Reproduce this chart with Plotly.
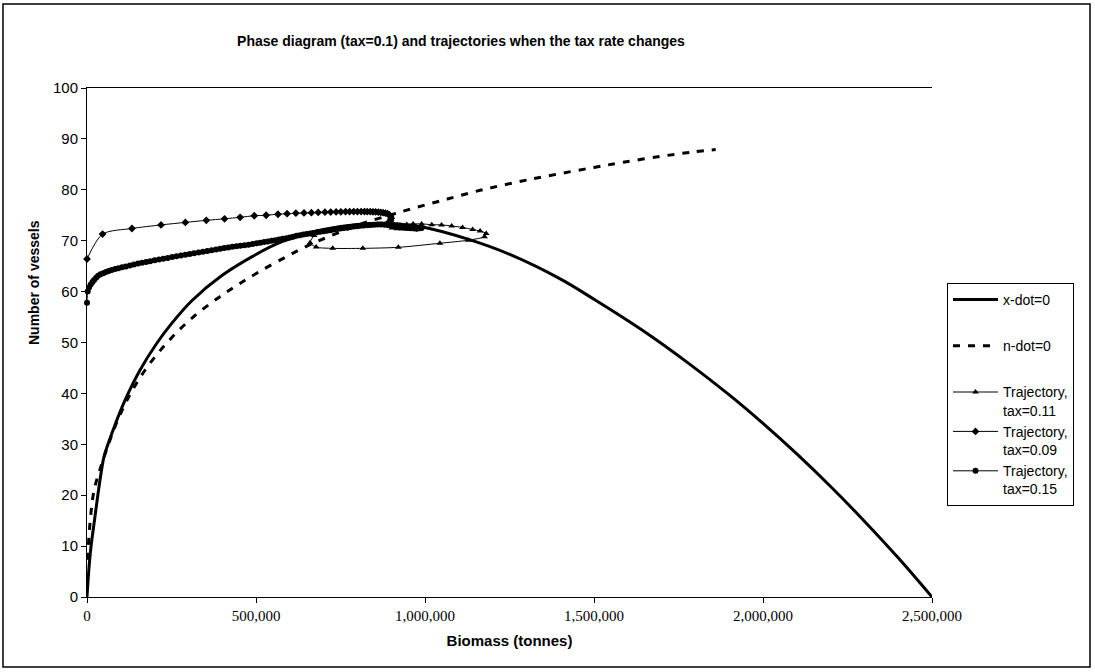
import plotly.graph_objects as go

# ---- isoclines of the phase diagram (tax = 0.1) ----
xdot_biomass = [0, 5000, 12000, 22000, 32000, 42000, 50000, 62000, 85000, 112000,
                157000, 206000, 250000, 310000, 400000, 500000, 577000, 700000,
                800000, 900000, 1000000, 1127000, 1251000, 1400000, 1500000,
                1641000, 1780000, 1902000, 2000000, 2100000, 2200000, 2300000,
                2400000, 2500000]
xdot_vessels = [0, 5, 10, 15, 20, 24.5, 27.5, 30, 34.2, 38.6,
                44.6, 49.8, 53.7, 58.2, 63.2, 67.3, 69.8, 72.2,
                73.2, 73.4, 72.6, 70.3, 67.3, 62.5, 58.5,
                52.5, 45.9, 39.6, 34.1, 28.1, 21.7, 14.9,
                7.7, 0]

ndot_biomass = [2000, 4000, 7000, 11000, 16000, 22000, 30000, 41000, 55000, 70000,
                90000, 121000, 172000, 240000, 314000, 391000, 450000, 512000,
                591000, 640000, 694000, 760000, 830000, 900000, 946000, 1000000,
                1050000, 1100000, 1163000, 1222000, 1300000, 1393000, 1500000,
                1586000, 1700000, 1790000, 1860000]
ndot_vessels = [7.3, 10, 13, 16, 19, 21.3, 23.3, 25.6, 28.4, 31.2,
                34.6, 39.0, 44.6, 50.2, 55.0, 58.9, 61.5, 64.0,
                66.9, 68.6, 70.2, 72.0, 73.7, 75.1, 76.0, 77.0,
                77.9, 78.8, 79.9, 80.8, 81.9, 83.1, 84.4,
                85.4, 86.6, 87.4, 87.9]

# ---- trajectories ----
traj011_biomass = [672000, 660000, 678000, 727000, 816000, 921000, 1044000, 1128000,
                   1176000, 1181000, 1163000, 1141000, 1111000, 1079000, 1049000,
                   1020000, 990000, 965000, 946000, 926000, 906000, 896000, 902000,
                   916000, 932000, 948000, 962000, 972000, 976000, 970000, 960000,
                   948000, 940000, 940000, 946000, 954000, 960000, 962000, 958000,
                   952000, 948000, 948000, 952000, 956000]
traj011_vessels = [71.0, 69.6, 68.75, 68.5, 68.5, 68.7, 69.5, 70.1,
                   70.8, 71.4, 71.9, 72.2, 72.6, 72.9, 73.1,
                   73.15, 73.3, 73.3, 73.2, 73.1, 73.0, 72.8, 72.5,
                   72.35, 72.3, 72.3, 72.35, 72.45, 72.6, 72.75, 72.8,
                   72.8, 72.7, 72.55, 72.45, 72.42, 72.48, 72.58, 72.66,
                   72.68, 72.62, 72.55, 72.52, 72.55]

traj009_biomass = [0, 46000, 133000, 219000, 291000, 353000, 407000, 453000, 495000,
                   530000, 565000, 592000, 618000, 642000, 664000, 684000, 704000,
                   721000, 737000, 751000, 765000, 777000, 789000, 800000, 811000,
                   821000, 829000, 838000, 846000, 854000, 862000, 869000, 876000,
                   883000, 889000, 894000, 898000, 900000, 898000, 894000, 896000,
                   906000, 918000, 932000, 946000, 958000, 968000, 976000]
traj009_vessels = [66.4, 71.3, 72.4, 73.1, 73.6, 74.0, 74.3, 74.6, 74.9,
                   75.0, 75.2, 75.3, 75.4, 75.45, 75.5, 75.55, 75.6,
                   75.62, 75.65, 75.67, 75.7, 75.7, 75.72, 75.72, 75.72,
                   75.72, 75.7, 75.7, 75.68, 75.65, 75.6, 75.55, 75.5,
                   75.4, 75.3, 75.1, 74.8, 74.4, 74.0, 73.7, 73.35,
                   73.1, 72.95, 72.8, 72.7, 72.6, 72.55, 72.5]

traj015_biomass = [0, 2000, 6000, 11000, 16000, 21000, 27000, 33000, 40000, 48000,
                   56000, 64000, 73000, 83000, 93000, 104000, 115000, 127000, 139000,
                   151000, 163000, 175000, 187000, 200000, 213000, 226000, 239000,
                   252000, 265000, 278000, 291000, 304000, 317000, 330000, 343000,
                   356000, 369000, 382000, 394000, 406000, 418000, 430000, 442000,
                   454000, 466000, 478000, 490000, 502000, 513000, 524000, 535000,
                   546000, 557000, 568000, 579000, 590000, 600000, 610000, 620000,
                   630000, 640000, 650000, 660000, 670000, 680000, 690000, 700000,
                   710000, 720000, 730000, 740000, 750000, 760000, 770000, 780000,
                   790000, 800000, 810000, 820000, 830000, 840000, 850000, 860000,
                   870000, 880000, 890000, 900000, 910000, 920000, 930000, 940000,
                   950000, 960000, 970000, 978000, 985000, 990000]
traj015_vessels = [57.8, 60.0, 60.8, 61.4, 61.9, 62.3, 62.7, 63.1, 63.4, 63.6,
                   63.85, 64.05, 64.25, 64.45, 64.6, 64.8, 64.95, 65.15, 65.3,
                   65.5, 65.65, 65.8, 65.95, 66.15, 66.3, 66.45, 66.6,
                   66.8, 66.95, 67.1, 67.25, 67.4, 67.55, 67.7, 67.85,
                   68.0, 68.1, 68.25, 68.4, 68.55, 68.65, 68.8, 68.9,
                   69.0, 69.1, 69.2, 69.35, 69.5, 69.6, 69.75, 69.85,
                   70.0, 70.1, 70.25, 70.4, 70.5, 70.65, 70.8, 70.95,
                   71.05, 71.2, 71.3, 71.4, 71.5, 71.65, 71.75, 71.85,
                   71.95, 72.05, 72.2, 72.3, 72.4, 72.5, 72.6, 72.7,
                   72.8, 72.85, 72.95, 73.0, 73.05, 73.1, 73.15, 73.2,
                   73.2, 73.15, 73.1, 73.0, 72.9, 72.8, 72.7, 72.6,
                   72.5, 72.45, 72.4, 72.4, 72.45, 72.5]

x_ticks = [0, 500000, 1000000, 1500000, 2000000, 2500000]
y_ticks = list(range(0, 101, 10))

SANS = "Liberation Sans, Arial, sans-serif"
SERIF = "Liberation Serif, Times New Roman, serif"

fig = go.Figure()

fig.add_trace(go.Scatter(
    x=xdot_biomass, y=xdot_vessels, name="x-dot=0", mode="lines",
    line=dict(color="black", width=3, shape="spline", smoothing=1.0),
    legendgroup="a"))
fig.add_trace(go.Scatter(
    x=ndot_biomass, y=ndot_vessels, name="n-dot=0", mode="lines",
    line=dict(color="black", width=3, dash="7px,8px", shape="spline", smoothing=1.0),
    legendgroup="b"))
fig.add_trace(go.Scatter(
    x=traj011_biomass, y=traj011_vessels, name="Trajectory,<br>tax=0.11",
    mode="lines+markers",
    line=dict(color="black", width=1, shape="spline", smoothing=0.8),
    marker=dict(symbol="triangle-up", size=6, color="black"),
    legendgroup="c", cliponaxis=False))
fig.add_trace(go.Scatter(
    x=traj009_biomass, y=traj009_vessels, name="Trajectory,<br>tax=0.09",
    mode="lines+markers",
    line=dict(color="black", width=1, shape="spline", smoothing=0.8),
    marker=dict(symbol="diamond", size=6, color="black"),
    legendgroup="c", cliponaxis=False))
fig.add_trace(go.Scatter(
    x=traj015_biomass, y=traj015_vessels, name="Trajectory,<br>tax=0.15",
    mode="lines+markers",
    line=dict(color="black", width=1, shape="spline", smoothing=0.8),
    marker=dict(symbol="circle", size=6, color="black"),
    legendgroup="c", cliponaxis=False))

L, R, T, B = 87, 163, 88, 75
W, H = 1095, 672
pw, ph = W - L - R, H - T - B

def px_x(p):
    return (p - L) / pw

def px_y(p):
    return (H - B - p) / ph

fig.update_layout(
    width=W, height=H,
    margin=dict(l=L, r=R, t=T, b=B, pad=0),
    paper_bgcolor="white", plot_bgcolor="white",
    hovermode=False,
    font=dict(family=SANS, color="black"),
    title=dict(
        text="<b>Phase diagram (tax=0.1) and trajectories when the tax rate changes</b>",
        x=px_x(461), xref="paper", xanchor="center",
        y=1 - 41 / H, yref="container", yanchor="middle",
        font=dict(family=SANS, size=14, color="black")),
    xaxis=dict(
        range=[0, 2500000], tickvals=x_ticks, tickformat=",d",
        showgrid=False, zeroline=False,
        showline=True, linecolor="black", linewidth=1, mirror=True,
        ticks="outside", ticklen=5, tickcolor="black",
        tickfont=dict(family=SERIF, size=15, color="black"),
        title=dict(text="<b>Biomass (tonnes)</b>",
                   font=dict(family=SANS, size=15, color="black"), standoff=12)),
    yaxis=dict(
        range=[0, 100], tickvals=y_ticks,
        showgrid=False, zeroline=False,
        showline=True, linecolor="black", linewidth=1,
        ticks="outside", ticklen=5, tickcolor="black",
        tickfont=dict(family=SANS, size=15, color="black")),
    legend=dict(
        x=px_x(947), y=px_y(283), xanchor="left", yanchor="top",
        bordercolor="black", borderwidth=1, bgcolor="white",
        font=dict(family=SANS, size=14, color="black"),
        traceorder="grouped", tracegroupgap=25, valign="top", itemwidth=45),
    annotations=[dict(
        text="<b>Number of vessels</b>", textangle=-90,
        xref="paper", yref="paper", x=px_x(34), y=px_y(282),
        xanchor="center", yanchor="middle", showarrow=False,
        font=dict(family=SANS, size=14, color="black"))],
    shapes=[dict(type="rect", xref="paper", yref="paper",
                 x0=px_x(3), x1=px_x(1090), y0=px_y(667), y1=px_y(4),
                 line=dict(color="black", width=1.5), layer="below")],
)

fig.write_html("out.html")
